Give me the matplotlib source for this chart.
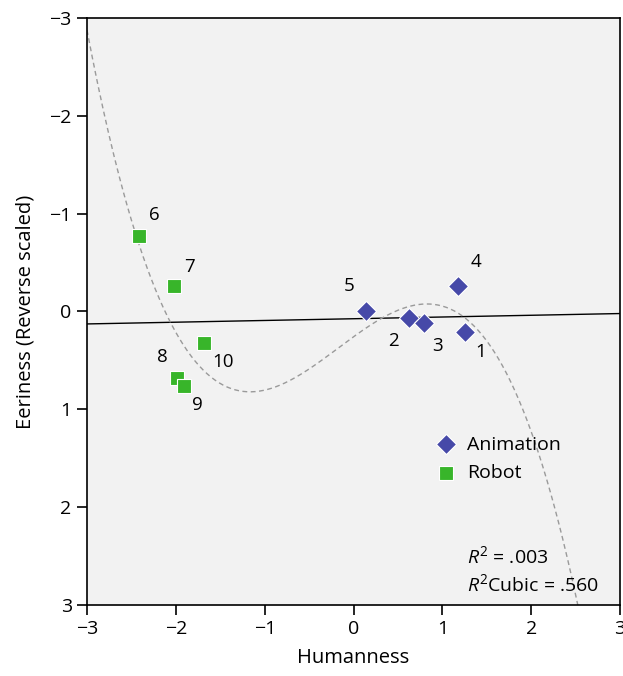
import numpy as np
import matplotlib
matplotlib.use("Agg")
from matplotlib import pyplot as plt

plt.rcParams['font.family'] = ['Open Sans', 'DejaVu Sans']
plt.rcParams['mathtext.fontset'] = 'custom'
plt.rcParams['mathtext.it'] = 'Open Sans:italic'
plt.rcParams['mathtext.rm'] = 'Open Sans'

# Animation items (diamonds)
anim_ids = ['1', '2', '3', '4', '5']
anim_x = [1.26, 0.63, 0.79, 1.18, 0.14]
anim_y = [0.21, 0.07, 0.12, -0.26, 0.00]

# Robot items (squares)
robot_ids = ['6', '7', '8', '9', '10']
robot_x = [-2.41, -2.02, -1.99, -1.91, -1.68]
robot_y = [-0.77, -0.26, 0.68, 0.76, 0.32]

# fitted lines
linear_coef = [-0.0177, 0.074]                   # slope, intercept
cubic_coef = [0.2276, 0.1154, -0.6571, 0.2587]   # x^3 .. const
r2_linear = '.003'
r2_cubic = '.560'

ticks = [-3, -2, -1, 0, 1, 2, 3]

# label offsets in pixels (dx, dy up)
anim_off = [(15, -20), (-16, -23), (14, -23), (18, 24), (-17, 25)]
robot_off = [(15, 21), (15, 19), (-14, 21), (14, -19), (19, -19)]

fig = plt.figure(figsize=(6.23, 6.76), dpi=100)
ax = fig.add_axes([87 / 623, 1 - 605 / 676, 533 / 623, 587 / 676])
ax.set_facecolor('#f2f2f2')

xs = np.linspace(-3, 3, 400)
ax.plot(xs, np.polyval(linear_coef, xs), color='black', lw=1.0, zorder=2)
ax.plot(xs, np.polyval(cubic_coef, xs), color='#9a9a9a', lw=1.0,
        ls=(0, (3.5, 2.5)), zorder=2)

ax.scatter(anim_x, anim_y, marker='D', s=105, color='#4649a8',
           edgecolors='white', linewidths=0.8, zorder=3, label='Animation')
ax.scatter(robot_x, robot_y, marker='s', s=115, color='#38b52a',
           edgecolors='white', linewidths=0.8, zorder=3, label='Robot')

px = 72 / 100
for lab, x, y, (dx, dy) in zip(anim_ids, anim_x, anim_y, anim_off):
    ax.annotate(lab, (x, y), xytext=(dx * px, dy * px), textcoords='offset points',
                ha='center', va='center', fontsize=13.5)
for lab, x, y, (dx, dy) in zip(robot_ids, robot_x, robot_y, robot_off):
    ax.annotate(lab, (x, y), xytext=(dx * px, dy * px), textcoords='offset points',
                ha='center', va='center', fontsize=13.5)

ax.set_xlim(-3, 3)
ax.set_ylim(3, -3)
ax.set_xticks(ticks)
ax.set_yticks(ticks)
ax.tick_params(direction='out', length=7, width=1.2, labelsize=14, pad=4)
for s in ax.spines.values():
    s.set_linewidth(1.2)

ax.set_xlabel('Humanness', fontsize=14.5, labelpad=7)
ax.set_ylabel('Eeriness (Reverse scaled)', fontsize=14.5, labelpad=10)

ax.legend(loc='upper left', bbox_to_anchor=(0.614, 0.3185), frameon=False,
          fontsize=14, handletextpad=0.3, labelspacing=0.55, handlelength=1.5)

ax.text(0.713, 0.0835, r'$R^2$ = ' + r2_linear, transform=ax.transAxes,
        fontsize=14, va='center', ha='left')
ax.text(0.713, 0.036, r'$R^2$Cubic = ' + r2_cubic, transform=ax.transAxes,
        fontsize=14, va='center', ha='left')

fig.savefig('out.png', dpi=100)
